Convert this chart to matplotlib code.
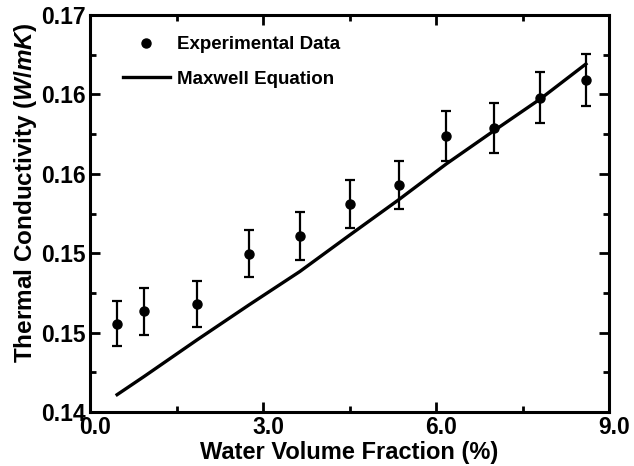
import numpy as np
import matplotlib
matplotlib.use("Agg")
import matplotlib.pyplot as plt
from matplotlib.ticker import FormatStrFormatter
from matplotlib.transforms import ScaledTranslation

# 數據
water_fraction = [0.47, 0.94, 1.86, 2.76, 3.64, 4.51, 5.35, 6.18, 7.00, 7.81, 8.60]
k_measured = [0.14667, 0.14760, 0.14815, 0.15196, 0.15331, 0.15570,
              0.15716, 0.16084, 0.16149, 0.16376, 0.16509]
k_error = [0.00172, 0.00177, 0.00175, 0.00179, 0.00181, 0.00182,
           0.00184, 0.00189, 0.00189, 0.00191, 0.00196]
k_maxwell = [0.14131, 0.14269, 0.14546, 0.14810, 0.15062, 0.15339,
             0.15603, 0.15875, 0.16124, 0.16366, 0.16630]

x_ticks = [0.0, 3.0, 6.0, 9.0]
y_ticks = [0.140, 0.146, 0.152, 0.158, 0.164, 0.170]

plt.rcParams['font.family'] = ['Liberation Sans', 'DejaVu Sans']
plt.rcParams['font.weight'] = 'bold'
plt.rcParams['mathtext.fontset'] = 'custom'
plt.rcParams['mathtext.it'] = 'Liberation Sans:italic:bold'
plt.rcParams['mathtext.rm'] = 'Liberation Sans:bold'

fig = plt.figure(figsize=(6.34, 4.66), dpi=100)
ax = fig.add_axes([90 / 634, 54 / 466, 519 / 634, 397 / 466])

# 實驗數據 + 誤差棒
ax.errorbar(water_fraction, k_measured, yerr=k_error, fmt='none', ecolor='k',
            elinewidth=1.6, capsize=3.5, capthick=1.6)
ax.plot(water_fraction, k_measured, 'o', color='k', ms=6.5, label='Experimental Data')

# Maxwell 方程
ax.plot(water_fraction, k_maxwell, '-', color='k', lw=2.4, label='Maxwell Equation')

ax.set_xlim(0, 9)
ax.set_ylim(0.14, 0.17)
ax.set_xticks(x_ticks)
ax.set_yticks(y_ticks)
ax.set_xticks([1.5, 4.5, 7.5], minor=True)
ax.set_yticks([0.143, 0.149, 0.155, 0.161, 0.167], minor=True)
ax.xaxis.set_major_formatter(FormatStrFormatter('%.1f'))
ax.yaxis.set_major_formatter(FormatStrFormatter('%.2f'))

ax.tick_params(which='both', direction='in', top=True, right=True, width=2,
               labelsize=16.5, pad=3)
ax.tick_params(which='major', length=7)
ax.tick_params(which='minor', length=4)
for s in ax.spines.values():
    s.set_linewidth(2.2)

# x 刻度標籤稍微右移（與原圖一致）
shift = ScaledTranslation(5 / 100, 0, fig.dpi_scale_trans)
for lab in ax.get_xticklabels():
    lab.set_transform(lab.get_transform() + shift)

ax.set_xlabel('Water Volume Fraction (%)', fontsize=17, fontweight='bold', labelpad=1)
ax.set_ylabel(r'Thermal Conductivity $\mathit{(W/mK)}$', fontsize=17.5, fontweight='bold')
ax.yaxis.set_label_coords(-0.099, 0.552)

ax.legend(loc='upper left', bbox_to_anchor=(0.0636, 0.947), frameon=False,
          fontsize=13.5, borderpad=0, borderaxespad=0, handlelength=2.5,
          handletextpad=0.4, labelspacing=0.92, numpoints=1)

plt.savefig('out.png', dpi=100)
plt.close()
